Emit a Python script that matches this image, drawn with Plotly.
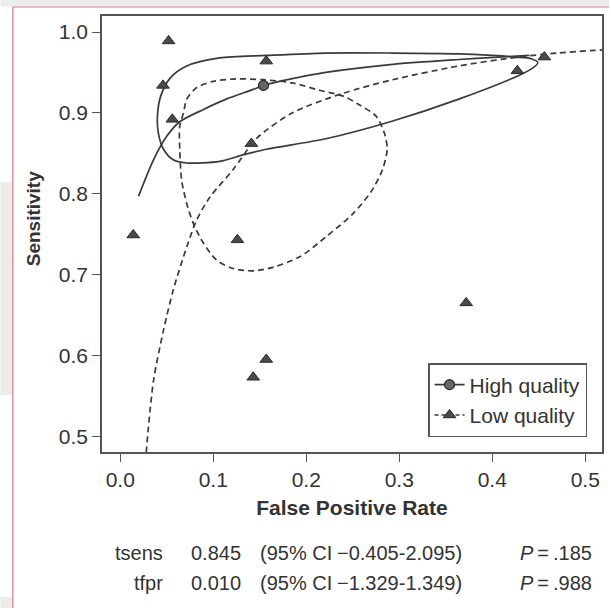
import plotly.graph_objects as go

# ---------------- data ----------------
high_fpr = [0.154]
high_sens = [0.934]

low_fpr = [0.052, 0.046, 0.056, 0.157, 0.141, 0.427, 0.456, 0.014, 0.126, 0.372, 0.157, 0.143]
low_sens = [0.989, 0.934, 0.892, 0.964, 0.862, 0.952, 0.969, 0.749, 0.743, 0.665, 0.595, 0.573]

# summary ROC curves (traced)
high_curve_fpr = [0.0197, 0.0358, 0.050, 0.064, 0.089, 0.114, 0.143, 0.154, 0.171, 0.221, 0.293, 0.364, 0.407, 0.440]
high_curve_sens = [0.797, 0.842, 0.871, 0.889, 0.904, 0.917, 0.929, 0.934, 0.939, 0.950, 0.960, 0.966, 0.969, 0.971]

low_curve_fpr = [0.0279, 0.0358, 0.0465, 0.057, 0.0715, 0.082, 0.0965, 0.1215, 0.141, 0.150, 0.185, 0.239, 0.293, 0.364, 0.428, 0.470, 0.520]
low_curve_sens = [0.480, 0.569, 0.631, 0.681, 0.734, 0.767, 0.796, 0.830, 0.861, 0.872, 0.900, 0.924, 0.941, 0.958, 0.969, 0.974, 0.978]

# confidence regions (traced outlines)
high_ell_fpr = [0.0436, 0.0536, 0.0715, 0.107, 0.157, 0.221, 0.293, 0.364, 0.400, 0.425, 0.442, 0.449,
                0.443, 0.428, 0.364, 0.293, 0.221, 0.157, 0.132, 0.107, 0.0715, 0.057, 0.0465, 0.041, 0.040, 0.0436]
high_ell_sens = [0.921, 0.943, 0.958, 0.968, 0.971, 0.974, 0.974, 0.973, 0.971, 0.969, 0.967, 0.962,
                 0.955, 0.946, 0.917, 0.890, 0.868, 0.855, 0.848, 0.840, 0.838, 0.842, 0.855, 0.875, 0.896, 0.921]

low_ell_fpr = [0.068, 0.0715, 0.082, 0.100, 0.125, 0.154, 0.185, 0.214, 0.239, 0.257, 0.275, 0.284, 0.287,
               0.282, 0.270, 0.250, 0.2215, 0.193, 0.164, 0.143, 0.1215, 0.1036, 0.0894, 0.0787, 0.0715,
               0.066, 0.064, 0.064, 0.068]
low_ell_sens = [0.900, 0.917, 0.931, 0.939, 0.942, 0.941, 0.937, 0.928, 0.921, 0.910, 0.896, 0.875, 0.855,
                0.830, 0.803, 0.775, 0.747, 0.722, 0.709, 0.7046, 0.7075, 0.718, 0.739, 0.763, 0.788,
                0.817, 0.855, 0.884, 0.900]

x_ticks = [0.0, 0.1, 0.2, 0.3, 0.4, 0.5]
y_ticks = [0.5, 0.6, 0.7, 0.8, 0.9, 1.0]

stat_names = ["tsens", "tfpr"]
stat_values = ["0.845", "0.010"]
stat_ci_label = ["(95% CI", "(95% CI"]
stat_ci = ["\u22120.405-2.095)", "\u22121.329-1.349)"]
stat_p = [".185", ".988"]

# ---------------- styling ----------------
W, H = 611, 608
ML, MR, MT, MB = 102, 7, 16, 156
PW, PH = W - ML - MR, H - MT - MB
FONT = "Liberation Sans, Arial, Helvetica, sans-serif"
LINE = "#3a3a3a"
TXT = "#333333"


def px(x):
    return (x - ML) / PW


def py(y):
    return (H - MB - y) / PH


fig = go.Figure()

fig.add_trace(go.Scatter(x=high_ell_fpr, y=high_ell_sens, mode="lines",
                         line=dict(color=LINE, width=1.7, shape="spline", smoothing=0.8),
                         showlegend=False, hoverinfo="skip"))
fig.add_trace(go.Scatter(x=low_ell_fpr, y=low_ell_sens, mode="lines",
                         line=dict(color=LINE, width=1.7, dash="6px,4px", shape="spline", smoothing=0.8),
                         showlegend=False, hoverinfo="skip"))
fig.add_trace(go.Scatter(x=high_curve_fpr, y=high_curve_sens, mode="lines",
                         line=dict(color=LINE, width=1.7, shape="spline", smoothing=0.8),
                         showlegend=False, hoverinfo="skip"))
fig.add_trace(go.Scatter(x=low_curve_fpr, y=low_curve_sens, mode="lines",
                         line=dict(color=LINE, width=1.7, dash="6px,4px", shape="spline", smoothing=0.8),
                         showlegend=False, hoverinfo="skip"))

fig.add_trace(go.Scatter(x=low_fpr, y=low_sens, mode="markers",
                         marker=dict(symbol="triangle-up", size=11, color="#4a4a4a",
                                     line=dict(color="#2a2a2a", width=1)),
                         showlegend=False))
fig.add_trace(go.Scatter(x=high_fpr, y=high_sens, mode="markers",
                         marker=dict(symbol="circle", size=10, color="#666666",
                                     line=dict(color="#2a2a2a", width=1.2)),
                         showlegend=False))

# legend entries
fig.add_trace(go.Scatter(x=[None], y=[None], mode="lines+markers", name="High quality",
                         line=dict(color=LINE, width=1.6),
                         marker=dict(symbol="circle", size=10, color="#666666",
                                     line=dict(color="#2a2a2a", width=1.2))))
fig.add_trace(go.Scatter(x=[None], y=[None], mode="lines+markers", name="Low quality",
                         line=dict(color=LINE, width=1.6, dash="4px,3px"),
                         marker=dict(symbol="triangle-up", size=11, color="#4a4a4a",
                                     line=dict(color="#2a2a2a", width=1))))

# background decorations (page border / grey page areas)
shapes = [
    dict(type="rect", xref="paper", yref="paper", x0=px(0), x1=px(W), y0=py(0), y1=py(6.5),
         fillcolor="#ececec", line=dict(width=0), layer="below"),
    dict(type="rect", xref="paper", yref="paper", x0=px(0), x1=px(12), y0=py(182), y1=py(395),
         fillcolor="#ececec", line=dict(width=0), layer="below"),
    dict(type="rect", xref="paper", yref="paper", x0=px(0), x1=px(12), y0=py(597), y1=py(H),
         fillcolor="#ececec", line=dict(width=0), layer="below"),
    dict(type="line", xref="paper", yref="paper", x0=px(12.5), x1=px(12.5), y0=py(7), y1=py(H),
         line=dict(color="#d9787a", width=1.2)),
    dict(type="line", xref="paper", yref="paper", x0=px(12.5), x1=px(W), y0=py(7), y1=py(7),
         line=dict(color="#d9787a", width=1.2)),
]

annotations = []
row_y = [553, 583]
for i in range(2):
    yy = py(row_y[i])
    common = dict(xref="paper", yref="paper", y=yy, yanchor="middle", showarrow=False,
                  font=dict(family=FONT, size=20, color=TXT))
    annotations.append(dict(text=stat_names[i], x=px(165), xanchor="right", **common))
    annotations.append(dict(text=stat_values[i], x=px(189), xanchor="left", **common))
    annotations.append(dict(text=stat_ci_label[i], x=px(259), xanchor="left", **common))
    annotations.append(dict(text=stat_ci[i], x=px(336), xanchor="left", **common))
    annotations.append(dict(text="<i>P</i>\u2009=\u2009" + stat_p[i], x=px(596), xanchor="right", **common))

# y-axis title placed as annotation (it sits slightly above centre in the reference)
annotations.append(dict(text="<b>Sensitivity</b>", xref="paper", yref="paper",
                        x=px(33), y=py(219), xanchor="center", yanchor="middle",
                        textangle=-90, showarrow=False,
                        font=dict(family=FONT, size=19, color=TXT)))

fig.update_layout(
    width=W, height=H,
    margin=dict(l=ML, r=MR, t=MT, b=MB, pad=0),
    paper_bgcolor="white", plot_bgcolor="white",
    font=dict(family=FONT, size=20, color=TXT),
    shapes=shapes,
    annotations=annotations,
    showlegend=True,
    legend=dict(x=px(589), xanchor="right", y=py(437), yanchor="bottom",
                bgcolor="white", bordercolor="#555555", borderwidth=1.5,
                font=dict(family=FONT, size=21, color=TXT),
                itemwidth=30, tracegroupgap=0),
)

fig.update_xaxes(
    range=[-0.0196, 0.518], tickvals=x_ticks, ticktext=[f"{v:.1f}" for v in x_ticks],
    showline=True, mirror=True, linecolor="#555555", linewidth=1.5,
    ticks="outside", ticklen=8, tickwidth=1.3, tickcolor="#555555",
    showgrid=False, zeroline=False,
    tickfont=dict(family=FONT, size=21, color=TXT),
    title=dict(text="<b>False Positive Rate</b>", font=dict(family=FONT, size=21, color=TXT), standoff=10),
)
fig.update_yaxes(
    range=[0.4806, 1.0198], tickvals=y_ticks, ticktext=[f"{v:.1f}" for v in y_ticks],
    showline=True, mirror=True, linecolor="#555555", linewidth=1.5,
    ticks="outside", ticklen=8, tickwidth=1.3, tickcolor="#555555",
    showgrid=False, zeroline=False,
    tickfont=dict(family=FONT, size=21, color=TXT),
)

fig.write_html("out.html")
